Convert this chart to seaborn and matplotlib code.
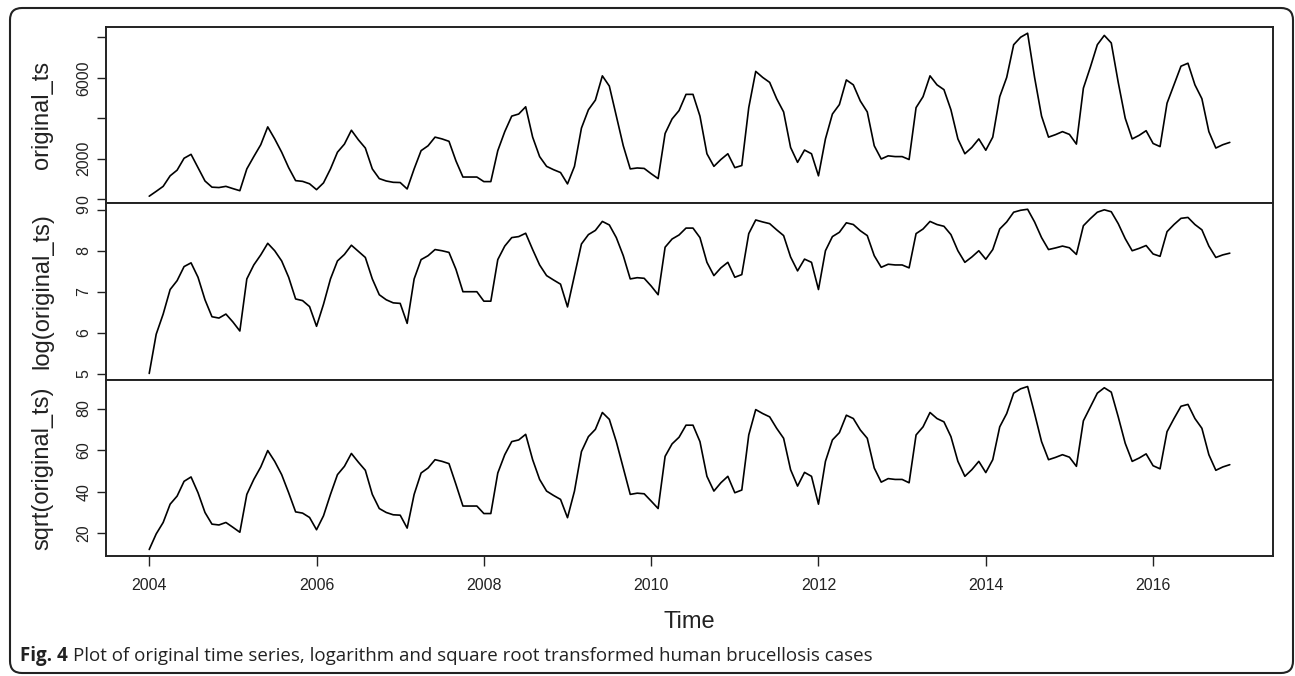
import numpy as np
import pandas as pd
import matplotlib
matplotlib.use("Agg")
import matplotlib.pyplot as plt
from matplotlib.patches import FancyBboxPatch
import seaborn as sns

# monthly human brucellosis cases, Jan 2004 - Dec 2016
cases_2004_2016 = [
    149, 388, 635, 1156, 1436, 2025, 2218, 1560, 900, 595, 576, 635,
    524, 420, 1498, 2107, 2694, 3576, 2981, 2323, 1560, 918, 882, 762,
    471, 807, 1498, 2323, 2725, 3411, 2938, 2530, 1498, 1018, 900, 835,
    824, 506, 1498, 2401, 2642, 3069, 2981, 2862, 1892, 1096, 1096, 1096,
    870, 870, 2401, 3341, 4109, 4212, 4570, 3069, 2107, 1624, 1459, 1318,
    756, 1624, 3516, 4422, 4900, 6100, 5595, 4109, 2642, 1498, 1544, 1521,
    1260, 1018, 3249, 3969, 4382, 5184, 5184, 4109, 2247, 1624, 1962, 2247,
    1560, 1665, 4529, 6320, 6022, 5776, 4970, 4316, 2560, 1823, 2430, 2247,
    1156, 2981, 4212, 4679, 5898, 5655, 4858, 4316, 2642, 1989, 2144, 2107,
    2107, 1962, 4529, 5069, 6100, 5655, 5417, 4422, 2981, 2247, 2560, 2981,
    2421, 3069, 5069, 6022, 7639, 8010, 8208, 6022, 4109, 3069, 3192, 3341,
    3204, 2725, 5491, 6529, 7639, 8100, 7726, 5776, 4007, 2981, 3158, 3387,
    2756, 2601, 4747, 5655, 6577, 6724, 5655, 4970, 3341, 2530, 2694, 2809,
]
start_year = 2004
x_ticks = [2004, 2006, 2008, 2010, 2012, 2014, 2016]

panel_names = ["original_ts", "log(original_ts)", "sqrt(original_ts)"]
panel_ticks = [[0, 2000, 4000, 6000, 8000], [5, 6, 7, 8, 9], [20, 40, 60, 80]]
panel_tick_labels = [["0", "2000", "", "6000", ""],
                     ["5", "6", "7", "8", "9"],
                     ["20", "40", "60", "80"]]

original_ts = np.array(cases_2004_2016, dtype=float)
time = start_year + np.arange(len(original_ts)) / 12.0
df = pd.DataFrame({
    "Time": time,
    "original_ts": original_ts,
    "log(original_ts)": np.log(original_ts),
    "sqrt(original_ts)": np.sqrt(original_ts),
})

sns.set_theme(style="ticks")
plt.rcParams["font.family"] = ["Liberation Sans", "DejaVu Sans"]

W, H = 1295, 676
fig = plt.figure(figsize=(W / 100, H / 100), dpi=100)

# panel geometry in pixels (left, right, top, bottom)
left, right = 106, 1273
bounds = [(26.7, 202.7), (202.7, 380), (380, 556)]

xspan = time[-1] - time[0]
xlim = (time[0] - 0.04 * xspan, time[-1] + 0.04 * xspan)

axes = []
for k, (name, ticks, labels, (top, bot)) in enumerate(
        zip(panel_names, panel_ticks, panel_tick_labels, bounds)):
    ax = fig.add_axes([left / W, 1 - bot / H, (right - left) / W, (bot - top) / H])
    sns.lineplot(data=df, x="Time", y=name, ax=ax, color="black", lw=1.2)
    vals = df[name].values
    span = vals.max() - vals.min()
    ax.set_ylim(vals.min() - 0.04 * span, vals.max() + 0.04 * span)
    ax.set_xlim(*xlim)
    ax.set_yticks(ticks)
    ax.set_yticklabels(labels, rotation=90, va="center", fontsize=11.5,
                       color="#222222")
    ax.tick_params(axis="y", direction="out", length=6.5, width=1.0, pad=4,
                   color="#222222")
    ax.set_ylabel(name, fontsize=17, va="center", color="#222222")
    ax.yaxis.set_label_coords(-0.0548, 0.5)
    for sp in ax.spines.values():
        sp.set_linewidth(1.4)
        sp.set_color("#222222")
    if k < 2:
        ax.set_xticks([])
        ax.set_xlabel("")
    else:
        ax.set_xticks(x_ticks)
        ax.set_xticklabels([str(t) for t in x_ticks], fontsize=11.5,
                           color="#222222")
        ax.tick_params(axis="x", direction="out", length=7, width=1.0, pad=9,
                       color="#222222")
        ax.set_xlabel("Time", fontsize=17, va="center", color="#222222")
        ax.xaxis.set_label_coords(0.5, -0.375)
    axes.append(ax)

# journal frame around the figure
frame = FancyBboxPatch((0.10, 0.03), 12.83, 6.65,
                       boxstyle="round,pad=0,rounding_size=0.12",
                       transform=fig.dpi_scale_trans, fill=False,
                       edgecolor="#222222", lw=1.5)
fig.patches.append(frame)

# caption
cap_font = ["Open Sans", "DejaVu Sans"]
t1 = fig.text(20 / W, 1 - 656 / H, "Fig. 4", fontsize=13.5, fontweight="bold",
              family=cap_font, va="center", ha="left", color="#222222")
fig.canvas.draw()
bb = t1.get_window_extent()
fig.text((bb.x1 + 5) / W, 1 - 656 / H,
         "Plot of original time series, logarithm and square root transformed human brucellosis cases",
         fontsize=13.5, family=cap_font, va="center", ha="left", color="#222222")

fig.savefig("out.png", dpi=100)
